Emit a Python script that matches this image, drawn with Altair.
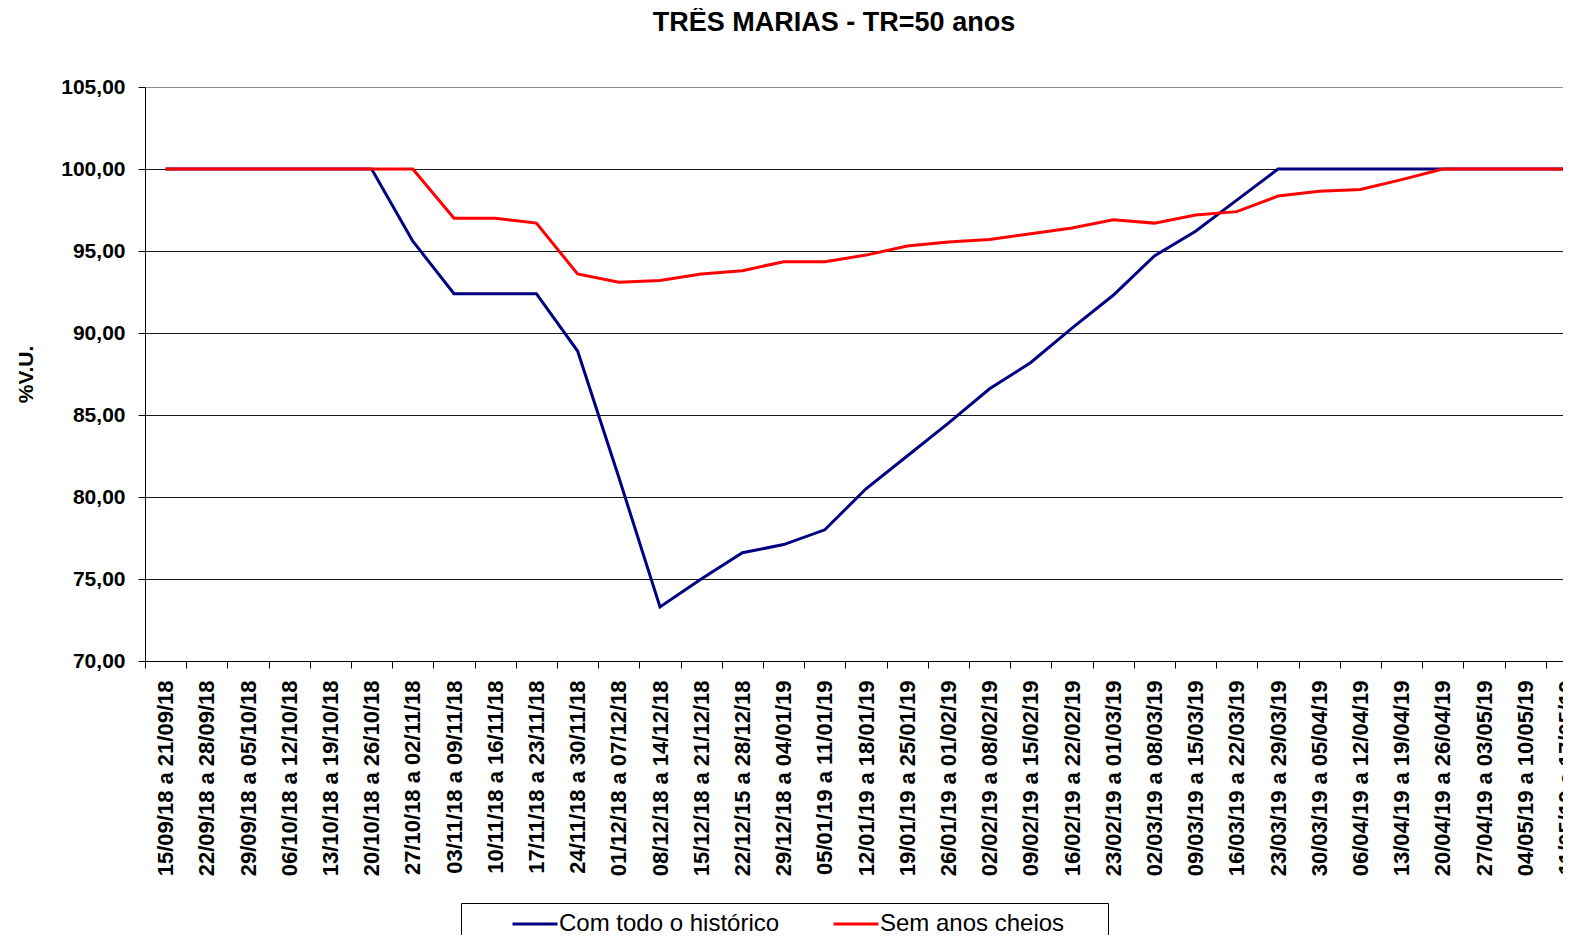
import altair as alt
import pandas as pd

semanas = [
    "15/09/18 a 21/09/18", "22/09/18 a 28/09/18", "29/09/18 a 05/10/18",
    "06/10/18 a 12/10/18", "13/10/18 a 19/10/18", "20/10/18 a 26/10/18",
    "27/10/18 a 02/11/18", "03/11/18 a 09/11/18", "10/11/18 a 16/11/18",
    "17/11/18 a 23/11/18", "24/11/18 a 30/11/18", "01/12/18 a 07/12/18",
    "08/12/18 a 14/12/18", "15/12/18 a 21/12/18", "22/12/15 a 28/12/18",
    "29/12/18 a 04/01/19", "05/01/19 a 11/01/19", "12/01/19 a 18/01/19",
    "19/01/19 a 25/01/19", "26/01/19 a 01/02/19", "02/02/19 a 08/02/19",
    "09/02/19 a 15/02/19", "16/02/19 a 22/02/19", "23/02/19 a 01/03/19",
    "02/03/19 a 08/03/19", "09/03/19 a 15/03/19", "16/03/19 a 22/03/19",
    "23/03/19 a 29/03/19", "30/03/19 a 05/04/19", "06/04/19 a 12/04/19",
    "13/04/19 a 19/04/19", "20/04/19 a 26/04/19", "27/04/19 a 03/05/19",
    "04/05/19 a 10/05/19", "11/05/19 a 17/05/19",
]

com_todo = [
    100, 100, 100, 100, 100, 100, 95.6, 92.4, 92.4, 92.4, 88.9, 81.2,
    73.3, 75.0, 76.6, 77.1, 78.0, 80.5, 82.5, 84.5, 86.6, 88.2, 90.3,
    92.3, 94.7, 96.2, 98.1, 100, 100, 100, 100, 100, 100, 100, 100,
]

sem_anos = [
    100, 100, 100, 100, 100, 100, 100, 97.0, 97.0, 96.7, 93.6, 93.1,
    93.2, 93.6, 93.8, 94.35, 94.35, 94.75, 95.3, 95.55, 95.7, 96.05, 96.4,
    96.9, 96.7, 97.2, 97.4, 98.35, 98.65, 98.75, 99.35, 100, 100, 100, 100,
]

series = ["Com todo o histórico", "Sem anos cheios"]
cores = ["#000080", "#FF0000"]
y_ticks = [70, 75, 80, 85, 90, 95, 100, 105]

rows = []
for nome, vals in zip(series, [com_todo, sem_anos]):
    for s, v in zip(semanas, vals):
        rows.append({"semana": s, "valor": v, "serie": nome})
df = pd.DataFrame(rows)

FONT = "Liberation Sans"

chart = (
    alt.Chart(df)
    .mark_line(strokeWidth=3)
    .encode(
        x=alt.X(
            "semana:N",
            sort=semanas,
            title=None,
            scale=alt.Scale(type="band", domain=semanas, range=[0, 1442],
                            paddingInner=0, paddingOuter=0),
            axis=alt.Axis(
                labelAngle=270,
                labelFont=FONT,
                labelFontSize=22,
                labelFontWeight="bold",
                labelColor="black",
                labelLimit=400,
                labelOverlap=False,
                labelPadding=12,
                tickBand="extent",
                tickSize=7,
                tickColor="black",
                domainColor="black",
                domainWidth=1,
                grid=False,
            ),
        ),
        y=alt.Y(
            "valor:Q",
            scale=alt.Scale(domain=[70, 105], nice=False, zero=False),
            axis=alt.Axis(
                values=y_ticks,
                labelExpr="replace(format(datum.value, '.2f'), '.', ',')",
                labelFont=FONT,
                labelFontSize=21,
                labelFontWeight="bold",
                labelColor="black",
                labelPadding=13,
                tickSize=7,
                tickColor="black",
                domainColor="black",
                grid=True,
                gridColor=alt.condition(alt.datum.value == 105,
                                        alt.value("#8c8c8c"), alt.value("#1a1a1a")),
                gridWidth=1.2,
                title="%V.U.",
                titleFont=FONT,
                titleFontSize=21,
                titleFontWeight="bold",
                titleColor="black",
                titlePadding=24,
            ),
        ),
        color=alt.Color(
            "serie:N",
            scale=alt.Scale(domain=series, range=cores),
            legend=alt.Legend(
                orient="none",
                legendX=316,
                legendY=816,
                direction="horizontal",
                title=" ",
                titleOrient="right",
                titleFontSize=1,
                titlePadding=36,
                symbolType="M-2,0H2",
                symbolSize=506,
                symbolStrokeWidth=3,
                symbolOffset=53,
                labelOffset=11,
                columnPadding=10,
                labelFont=FONT,
                labelFontSize=24,
                labelColor="black",
                labelLimit=400,
                strokeColor="black",
                padding=8,
                fillColor="white",
            ),
        ),
    )
    .properties(
        width=1418,
        height=574,
        title=alt.TitleParams(
            "TRÊS MARIAS - TR=50 anos",
            font=FONT,
            fontSize=27,
            fontWeight="bold",
            color="black",
            anchor="middle",
            frame="group",
            dx=-20,
            offset=39,
        ),
        autosize=alt.AutoSizeParams(type="none"),
        padding={"left": 137, "top": 79, "right": 0, "bottom": 274},
        background="white",
    )
    .configure_view(stroke=None)
)

chart.save("out.html", embed_options={"renderer": "svg", "actions": False})
